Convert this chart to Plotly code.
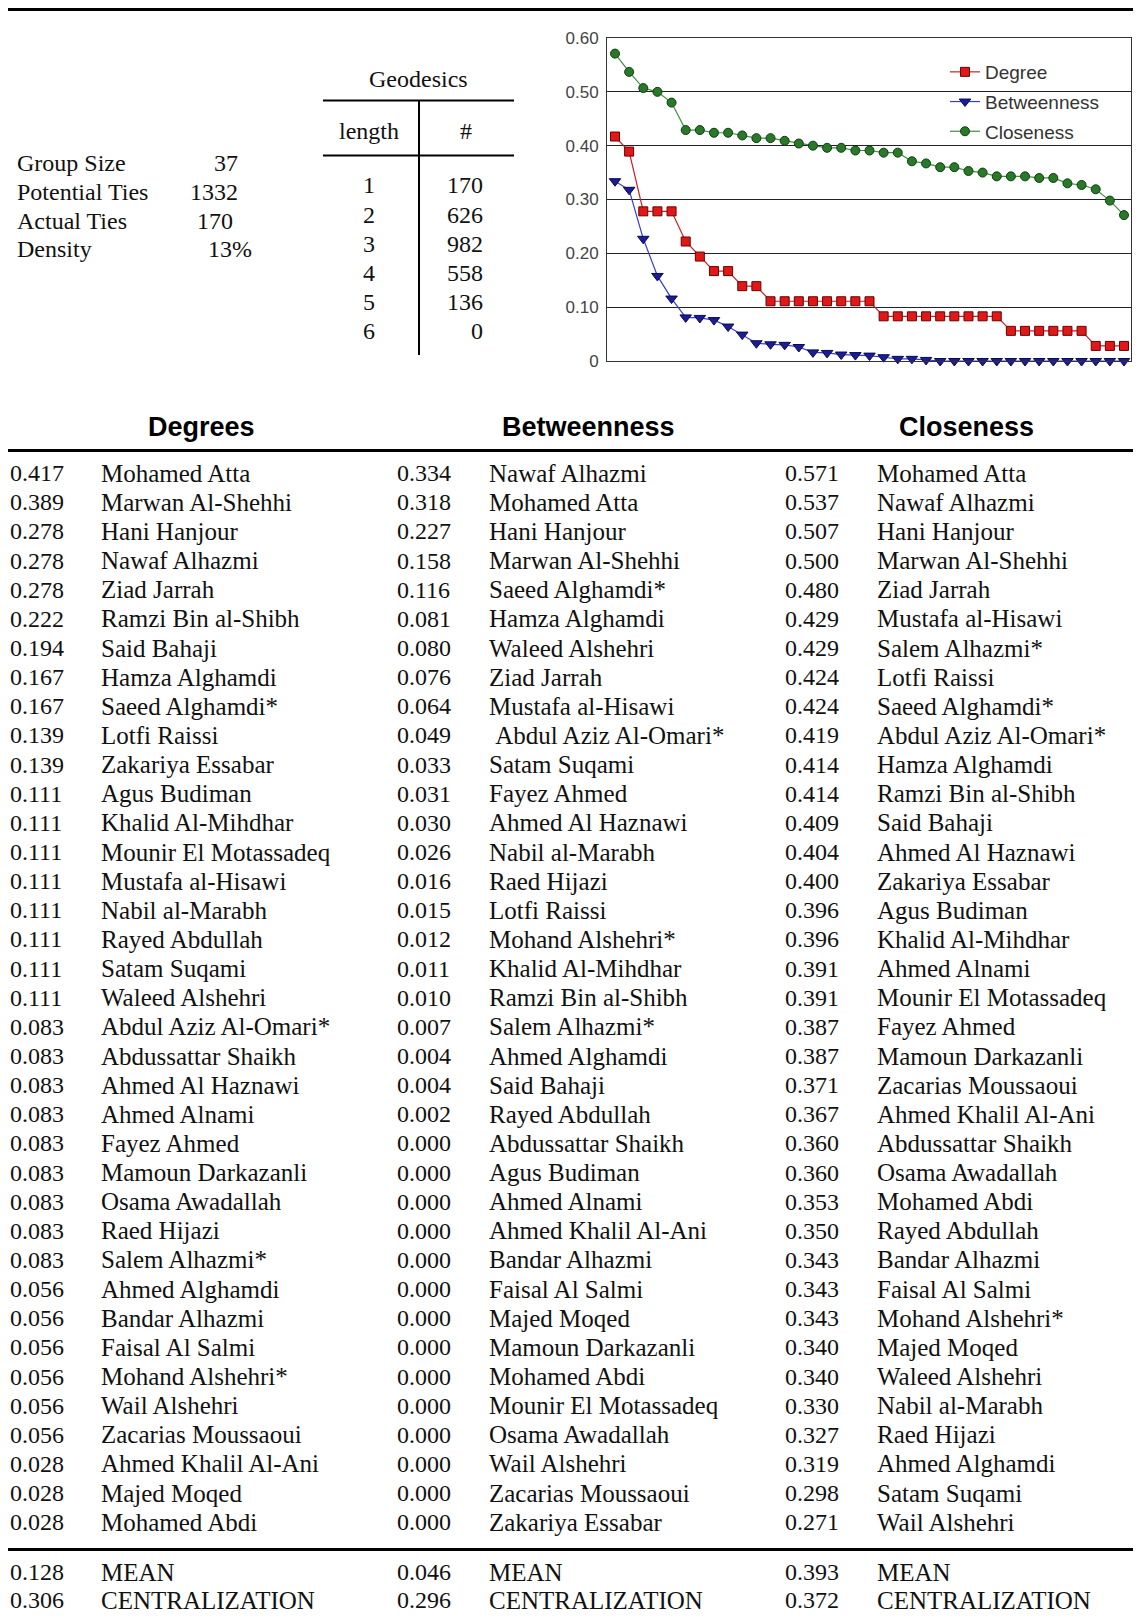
import plotly.graph_objects as go

# Page is 1141x1623; the browser body keeps its default 8px margin,
# so the figure itself is 16px smaller and all positions are offset by 8px.
PAGE_W, PAGE_H = 1141, 1623
BODY_MARGIN = 8
W, H = PAGE_W - 2 * BODY_MARGIN, PAGE_H - 2 * BODY_MARGIN

# ---------------- data ----------------
stat_labels = ["Group Size", "Potential Ties", "Actual Ties", "Density"]
stat_values = ["37", "1332", "170", "13%"]

geo_lengths = [1, 2, 3, 4, 5, 6]
geo_counts = [170, 626, 982, 558, 136, 0]

deg_names = ["Mohamed Atta", "Marwan Al-Shehhi", "Hani Hanjour", "Nawaf Alhazmi", "Ziad Jarrah",
             "Ramzi Bin al-Shibh", "Said Bahaji", "Hamza Alghamdi", "Saeed Alghamdi*", "Lotfi Raissi",
             "Zakariya Essabar", "Agus Budiman", "Khalid Al-Mihdhar", "Mounir El Motassadeq",
             "Mustafa al-Hisawi", "Nabil al-Marabh", "Rayed Abdullah", "Satam Suqami", "Waleed Alshehri",
             "Abdul Aziz Al-Omari*", "Abdussattar Shaikh", "Ahmed Al Haznawi", "Ahmed Alnami",
             "Fayez Ahmed", "Mamoun Darkazanli", "Osama Awadallah", "Raed Hijazi", "Salem Alhazmi*",
             "Ahmed Alghamdi", "Bandar Alhazmi", "Faisal Al Salmi", "Mohand Alshehri*", "Wail Alshehri",
             "Zacarias Moussaoui", "Ahmed Khalil Al-Ani", "Majed Moqed", "Mohamed Abdi"]
deg_values = [0.417, 0.389, 0.278, 0.278, 0.278, 0.222, 0.194, 0.167, 0.167, 0.139,
              0.139, 0.111, 0.111, 0.111, 0.111, 0.111, 0.111, 0.111, 0.111,
              0.083, 0.083, 0.083, 0.083, 0.083, 0.083, 0.083, 0.083, 0.083,
              0.056, 0.056, 0.056, 0.056, 0.056, 0.056, 0.028, 0.028, 0.028]

btw_names = ["Nawaf Alhazmi", "Mohamed Atta", "Hani Hanjour", "Marwan Al-Shehhi", "Saeed Alghamdi*",
             "Hamza Alghamdi", "Waleed Alshehri", "Ziad Jarrah", "Mustafa al-Hisawi",
             "\u00a0Abdul Aziz Al-Omari*", "Satam Suqami", "Fayez Ahmed", "Ahmed Al Haznawi",
             "Nabil al-Marabh", "Raed Hijazi", "Lotfi Raissi", "Mohand Alshehri*", "Khalid Al-Mihdhar",
             "Ramzi Bin al-Shibh", "Salem Alhazmi*", "Ahmed Alghamdi", "Said Bahaji", "Rayed Abdullah",
             "Abdussattar Shaikh", "Agus Budiman", "Ahmed Alnami", "Ahmed Khalil Al-Ani",
             "Bandar Alhazmi", "Faisal Al Salmi", "Majed Moqed", "Mamoun Darkazanli", "Mohamed Abdi",
             "Mounir El Motassadeq", "Osama Awadallah", "Wail Alshehri", "Zacarias Moussaoui",
             "Zakariya Essabar"]
btw_values = [0.334, 0.318, 0.227, 0.158, 0.116, 0.081, 0.080, 0.076, 0.064, 0.049,
              0.033, 0.031, 0.030, 0.026, 0.016, 0.015, 0.012, 0.011, 0.010, 0.007,
              0.004, 0.004, 0.002, 0.000, 0.000, 0.000, 0.000, 0.000, 0.000, 0.000,
              0.000, 0.000, 0.000, 0.000, 0.000, 0.000, 0.000]

clo_names = ["Mohamed Atta", "Nawaf Alhazmi", "Hani Hanjour", "Marwan Al-Shehhi", "Ziad Jarrah",
             "Mustafa al-Hisawi", "Salem Alhazmi*", "Lotfi Raissi", "Saeed Alghamdi*",
             "Abdul Aziz Al-Omari*", "Hamza Alghamdi", "Ramzi Bin al-Shibh", "Said Bahaji",
             "Ahmed Al Haznawi", "Zakariya Essabar", "Agus Budiman", "Khalid Al-Mihdhar",
             "Ahmed Alnami", "Mounir El Motassadeq", "Fayez Ahmed", "Mamoun Darkazanli",
             "Zacarias Moussaoui", "Ahmed Khalil Al-Ani", "Abdussattar Shaikh", "Osama Awadallah",
             "Mohamed Abdi", "Rayed Abdullah", "Bandar Alhazmi", "Faisal Al Salmi", "Mohand Alshehri*",
             "Majed Moqed", "Waleed Alshehri", "Nabil al-Marabh", "Raed Hijazi", "Ahmed Alghamdi",
             "Satam Suqami", "Wail Alshehri"]
clo_values = [0.571, 0.537, 0.507, 0.500, 0.480, 0.429, 0.429, 0.424, 0.424, 0.419,
              0.414, 0.414, 0.409, 0.404, 0.400, 0.396, 0.396, 0.391, 0.391, 0.387,
              0.387, 0.371, 0.367, 0.360, 0.360, 0.353, 0.350, 0.343, 0.343, 0.343,
              0.340, 0.340, 0.330, 0.327, 0.319, 0.298, 0.271]

summary_labels = ["MEAN", "CENTRALIZATION"]
deg_summary = [0.128, 0.306]
btw_summary = [0.046, 0.296]
clo_summary = [0.393, 0.372]

table_headers = ["Degrees", "Betweenness", "Closeness"]
chart_series = ["Degree", "Betweenness", "Closeness"]
tick_vals = [0, 0.1, 0.2, 0.3, 0.4, 0.5, 0.6]
tick_text = ["0", "0.10", "0.20", "0.30", "0.40", "0.50", "0.60"]

# ---------------- layout helpers ----------------
SERIF = "Liberation Serif"
SANS = "Liberation Sans"
TXT = "#111111"


def px(x):
    """page pixel x -> paper fraction"""
    return (x - BODY_MARGIN) / W


def py(y):
    """page pixel y -> paper fraction"""
    return 1 - (y - BODY_MARGIN) / H


annotations = []
shapes = []


def text(t, x, y, anchor="left", size=24, family=SERIF, color=TXT):
    annotations.append(dict(text=t, x=px(x), y=py(y), xref="paper", yref="paper",
                            xanchor=anchor, yanchor="middle", showarrow=False,
                            font=dict(family=family, size=size, color=color)))


def hline(x0, x1, y, w=2):
    shapes.append(dict(type="line", xref="paper", yref="paper", x0=px(x0), x1=px(x1),
                       y0=py(y), y1=py(y), line=dict(color="#000", width=w)))


def vline(x, y0, y1, w=2):
    shapes.append(dict(type="line", xref="paper", yref="paper", x0=px(x), x1=px(x),
                       y0=py(y0), y1=py(y1), line=dict(color="#000", width=w)))


RIGHT = BODY_MARGIN + W

# top rule
hline(8, RIGHT, 9.5, 3)

# stats block
stat_row0, stat_step = 162.5, 29.0
stat_value_right = [240, 240, 235, 254]
for i, (lab, val) in enumerate(zip(stat_labels, stat_values)):
    y = stat_row0 + i * stat_step
    text(lab, 15, y)
    text(val, stat_value_right[i], y, anchor="right")

# geodesics table
text("Geodesics", 418, 79, anchor="center")
hline(323, 514, 100.5, 2)
text("length", 369, 131, anchor="center")
text("#", 466, 131, anchor="center")
hline(323, 514, 155.5, 2)
vline(419, 100.5, 355, 2)
for i, (ln, cnt) in enumerate(zip(geo_lengths, geo_counts)):
    y = 185.3 + i * 29.2
    text(str(ln), 369, y, anchor="center")
    text(str(cnt), 485, y, anchor="right")

# centrality table
head_x = [201, 588, 966]
for hx, h in zip(head_x, table_headers):
    annotations.append(dict(text="<b>%s</b>" % h, x=px(hx), y=py(427), xref="paper", yref="paper",
                            xanchor="center", yanchor="middle", showarrow=False,
                            font=dict(family=SANS, size=27, color="#000")))
hline(8, RIGHT, 450.5, 3)

row0, row_step = 473.2, 29.14
col_val_x = [8.3, 394.5, 782.8]
col_name_x = [99.4, 486.6, 874.9]
columns = [(deg_values, deg_names), (btw_values, btw_names), (clo_values, clo_names)]
for c, (vals, names) in enumerate(columns):
    for i, (v, n) in enumerate(zip(vals, names)):
        y = row0 + i * row_step
        text("%.3f" % v, col_val_x[c], y)
        text(n, col_name_x[c], y, size=25)

hline(8, RIGHT, 1549.5, 3)
summaries = [deg_summary, btw_summary, clo_summary]
summary_y = [1572, 1600]
for c, s in enumerate(summaries):
    for j, lab in enumerate(summary_labels):
        text("%.3f" % s[j], col_val_x[c], summary_y[j])
        text(lab, col_name_x[c], summary_y[j], size=25)

# ---------------- chart ----------------
ranks = list(range(1, len(deg_values) + 1))
styles = [
    dict(symbol="square", size=9, color="#e01818", edge="#6a0000", line="#c82020"),
    dict(symbol="triangle-down", size=10, color="#1c1c96", edge="#0a0a50", line="#3a3ad6"),
    dict(symbol="circle", size=9, color="#2a782a", edge="#0d3d0d", line="#3f8f3f"),
]
series_values = [deg_values, btw_values, clo_values]

fig = go.Figure()
for name, vals, st in zip(chart_series, series_values, styles):
    fig.add_trace(go.Scatter(
        x=ranks, y=vals, name=name, mode="lines+markers", legendgroup=name,
        line=dict(color=st["line"], width=1.2),
        marker=dict(symbol=st["symbol"], size=st["size"], color=st["color"],
                    line=dict(color=st["edge"], width=1)),
        cliponaxis=False, hoverinfo="x+y"))

fig.update_layout(
    width=W, height=H, autosize=False,
    margin=dict(l=0, r=0, t=0, b=0, autoexpand=False),
    paper_bgcolor="white", plot_bgcolor="white",
    annotations=annotations, shapes=shapes,
    showlegend=True,
    legend=dict(x=px(945), y=py(53), xanchor="left", yanchor="top",
                bgcolor="rgba(0,0,0,0)", borderwidth=0, tracegroupgap=2,
                itemwidth=30, traceorder="grouped",
                font=dict(family=SANS, size=19, color="#333")),
    xaxis=dict(domain=[px(607), px(1131)], range=[0.434, 37.495],
               showticklabels=False, showgrid=False, zeroline=False, automargin=False,
               showline=True, mirror=True, linecolor="#333", linewidth=1, ticks=""),
    yaxis=dict(domain=[py(361), py(38)], range=[0, 0.6],
               tickvals=tick_vals, ticktext=tick_text, automargin=False,
               tickfont=dict(family=SANS, size=17, color="#444"),
               showgrid=True, gridcolor="#222", gridwidth=1, zeroline=False,
               showline=True, mirror=True, linecolor="#333", linewidth=1,
               ticks="", ticklabelstandoff=4),
)

fig.write_html("out.html", config={"displayModeBar": False})
